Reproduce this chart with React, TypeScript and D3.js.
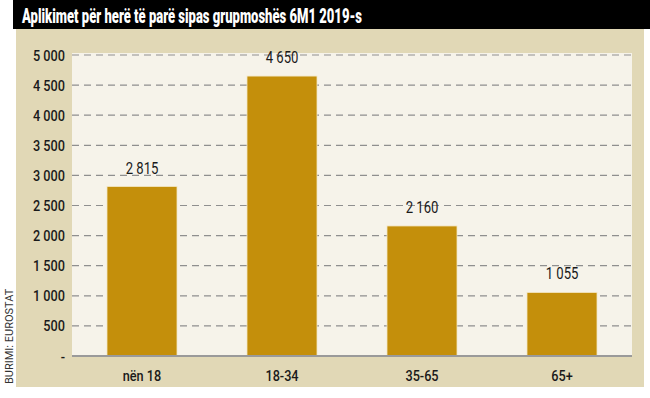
import React from "react";
import * as d3 from "d3";

const categories = ["nën 18", "18-34", "35-65", "65+"];
const values = [2815, 4650, 2160, 1055];
const valueLabels = ["2 815", "4 650", "2 160", "1 055"];
const yTicks = [0, 500, 1000, 1500, 2000, 2500, 3000, 3500, 4000, 4500, 5000];
const yTickLabels = ["-", "500", "1 000", "1 500", "2 000", "2 500", "3 000", "3 500", "4 000", "4 500", "5 000"];
const title = "Aplikimet për herë të parë sipas grupmoshës 6M1 2019-s";
const source = "BURIMI: EUROSTAT";

const W = 650;
const H = 398;
const plot = { x0: 72, x1: 632, y0: 53, y1: 356 };
const font = "Roboto, 'Liberation Sans', sans-serif";
const SX = 0.82;

function NText({ x, y, anchor = "middle", size = 15, weight = 400, fill = "#1a1a1a", children }: any) {
  return (
    <text
      transform={`translate(${x},${y}) scale(${SX},1)`}
      textAnchor={anchor}
      fontSize={size}
      fontWeight={weight}
      fill={fill}
    >
      {children}
    </text>
  );
}

export default function App() {
  const x = d3.scaleBand<string>().domain(categories).range([plot.x0, plot.x1]).paddingInner(0.5).paddingOuter(0.25);
  const y = d3.scaleLinear().domain([0, 5000]).range([plot.y1, 55]);

  return (
    <svg width={W} height={H} style={{ position: "absolute", left: 0, top: 0 }} fontFamily={font}>
      <rect x={0} y={0} width={W} height={H} fill="#ffffff" />
      <rect x={16} y={29} width={628} height={358} fill="#E1D8B6" />
      <rect x={13} y={0} width={W - 13} height={29} fill="#000000" />
      <text x={22} y={22.5} fill="#ffffff" fontSize={20} fontWeight={900} textLength={340} lengthAdjust="spacingAndGlyphs">
        {title}
      </text>
      <rect x={plot.x0} y={plot.y0} width={plot.x1 - plot.x0} height={plot.y1 - plot.y0} fill="#F6F3EA" />
      {yTicks.filter((t) => t > 0).map((t) => (
        <line key={t} x1={plot.x0} x2={plot.x1} y1={y(t)} y2={y(t)} stroke="#8f8f8f" strokeWidth={1.2} strokeDasharray="7,5" />
      ))}
      {yTicks.map((t, i) => (
        <NText key={t} x={65} y={y(t) + 5.5} anchor="end" size={15.5} weight={500}>
          {yTickLabels[i]}
        </NText>
      ))}
      {categories.map((c, i) => (
        <g key={c}>
          <rect x={x(c)!} y={y(values[i])} width={x.bandwidth()} height={plot.y1 - y(values[i])} fill="#C48F0B" stroke="#f3e6c4" strokeWidth={0.8} />
          <NText x={x(c)! + x.bandwidth() / 2} y={y(values[i]) - 13} size={16} weight={400}>
            {valueLabels[i]}
          </NText>
          <NText x={x(c)! + x.bandwidth() / 2} y={381} size={15.5} weight={500}>
            {c}
          </NText>
        </g>
      ))}
      <line x1={plot.x0} x2={plot.x1} y1={plot.y1} y2={plot.y1} stroke="#9a9a9a" strokeWidth={2} />
      <text transform={`translate(13,${384}) rotate(-90)`} fontSize={11} fill="#333">
        {source}
      </text>
    </svg>
  );
}
